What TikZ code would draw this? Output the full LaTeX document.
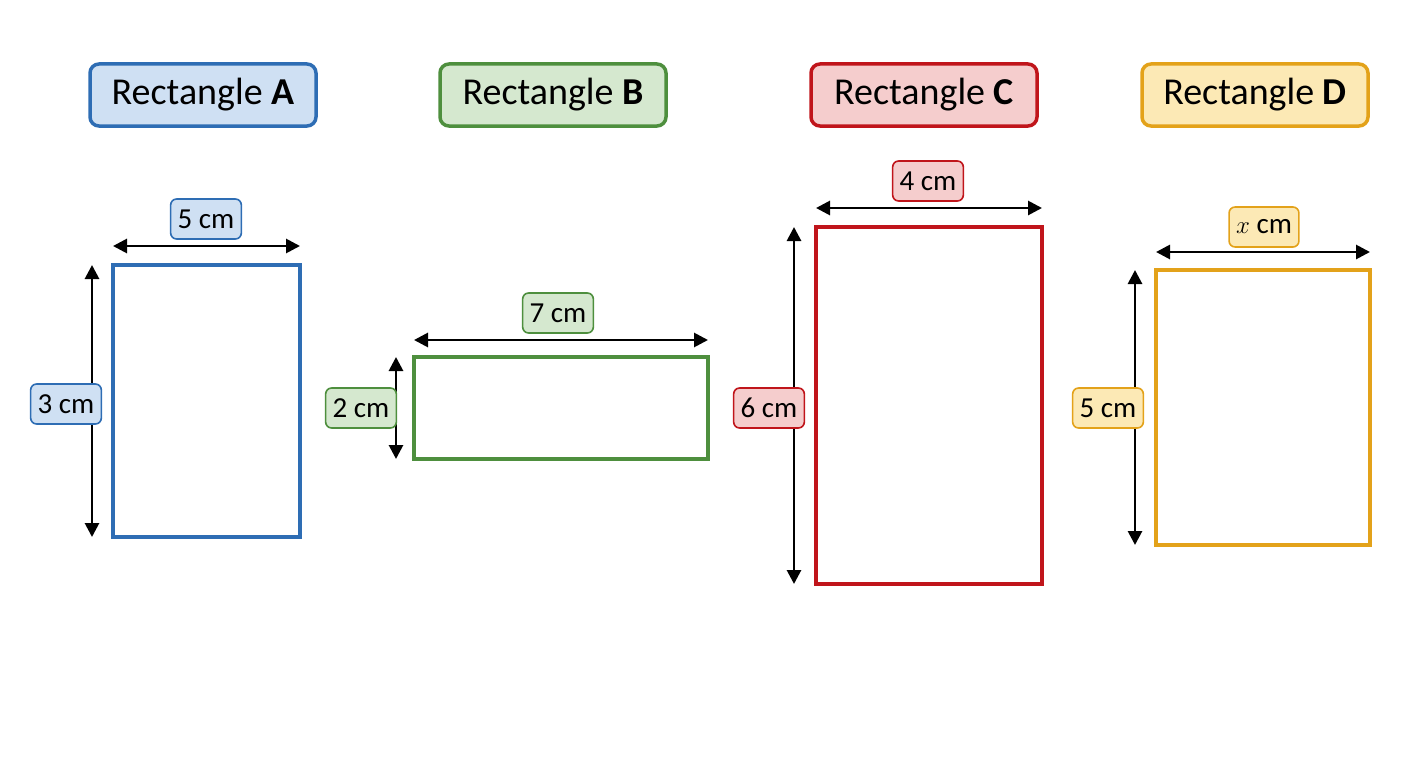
\documentclass[tikz,border=0pt]{standalone}
\usepackage{fontspec}
\setmainfont{Carlito}
\usetikzlibrary{arrows.meta}
\definecolor{bS}{HTML}{2E6DB4}\definecolor{bF}{HTML}{CFE0F3}
\definecolor{gS}{HTML}{4E8F3E}\definecolor{gF}{HTML}{D5E8CF}
\definecolor{rS}{HTML}{C0151B}\definecolor{rF}{HTML}{F5CDCD}
\definecolor{yS}{HTML}{E3A21A}\definecolor{yF}{HTML}{FCE9B5}
\begin{document}
\begin{tikzpicture}[x=1pt,y=-1pt,
 title/.style={draw=#1S,fill=#1F,line width=3.5pt,rounded corners=9pt,minimum width=226pt,minimum height=62pt,font=\fontsize{38}{42}\selectfont},
 lab/.style={draw=#1S,fill=#1F,line width=1.6pt,rounded corners=6pt,inner xsep=7pt,minimum height=40pt,font=\fontsize{29}{32}\selectfont},
 rbox/.style={draw=#1S,line width=3.5pt},
 dim/.style={{Triangle[length=14pt,width=14pt]}-{Triangle[length=14pt,width=14pt]},line width=2.8pt}]
\useasboundingbox (0,0) rectangle (1408,768);
% A
\node[title=b] (tA) at (203,95) {Rectangle \textbf{A}};
\draw[rbox=b] (113,265) rectangle (300,537);
\coordinate (a1) at (113,246); \coordinate (a2) at (300,246);
\coordinate (a3) at (92,265); \coordinate (a4) at (92,537);
\draw[dim] (a1)--(a2); \draw[dim] (a3)--(a4);
\node[lab=b] (lA1) at (206,219) {5 cm};
\node[lab=b] (lA2) at (66,404) {3 cm};
% B
\node[title=g] (tB) at (553,95) {Rectangle \textbf{B}};
\draw[rbox=g] (414,357) rectangle (708,459);
\coordinate (b1) at (414,340); \coordinate (b2) at (708,340);
\coordinate (b3) at (396,357); \coordinate (b4) at (396,459);
\draw[dim] (b1)--(b2); \draw[dim] (b3)--(b4);
\node[lab=g] (lB1) at (558,313) {7 cm};
\node[lab=g] (lB2) at (361,408) {2 cm};
% C
\node[title=r] (tC) at (924,95) {Rectangle \textbf{C}};
\draw[rbox=r] (816,227) rectangle (1042,584);
\coordinate (c1) at (816,208); \coordinate (c2) at (1042,208);
\coordinate (c3) at (794,227); \coordinate (c4) at (794,584);
\draw[dim] (c1)--(c2); \draw[dim] (c3)--(c4);
\node[lab=r] (lC1) at (928,181) {4 cm};
\node[lab=r] (lC2) at (769,408) {6 cm};
% D
\node[title=y] (tD) at (1255,95) {Rectangle \textbf{D}};
\draw[rbox=y] (1156,270) rectangle (1370,545);
\coordinate (d1) at (1156,252); \coordinate (d2) at (1370,252);
\coordinate (d3) at (1135,270); \coordinate (d4) at (1135,545);
\draw[dim] (d1)--(d2); \draw[dim] (d3)--(d4);
\node[lab=y] (lD1) at (1264,227) {$x$ cm};
\node[lab=y] (lD2) at (1108,408) {5 cm};
\end{tikzpicture}
\end{document}
